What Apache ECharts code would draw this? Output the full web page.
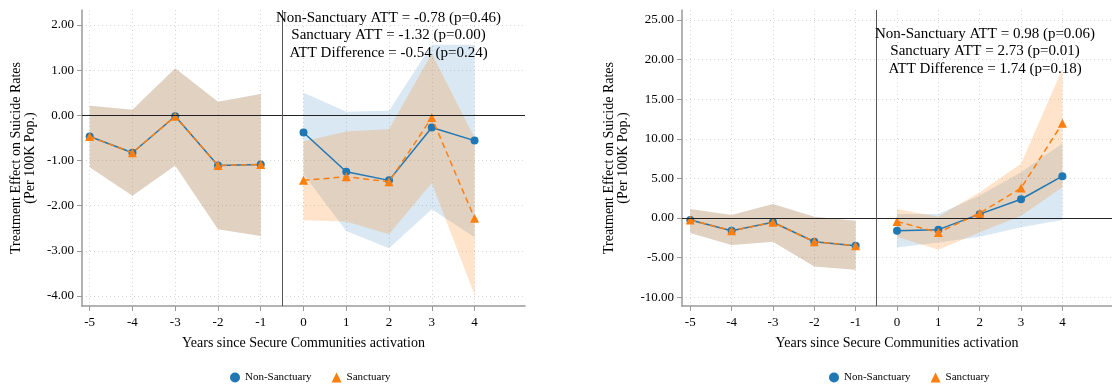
<!DOCTYPE html>
<html>
<head>
<meta charset="utf-8">
<script src="https://cdn.jsdelivr.net/npm/echarts@6/dist/echarts.min.js"></script>
<style>
  html, body { margin: 0; padding: 0; background: #fff; }
  #chart { width: 1112px; height: 386px; }
</style>
</head>
<body>
<div id="chart"></div>
<script>
// Event-time (years relative to Secure Communities activation)
const years = [-5, -4, -3, -2, -1, 0, 1, 2, 3, 4];
const xTicks = [-5, -4, -3, -2, -1, 0, 1, 2, 3, 4];

// Panel A: estimates and 95% CI bounds
const aNonEst = [-0.47, -0.83, -0.02, -1.11, -1.09, -0.38, -1.25, -1.44, -0.27, -0.56];
const aNonLo  = [-1.15, -1.78, -1.11, -2.52, -2.67, -1.30, -2.56, -2.94, -2.08, -2.70];
const aNonHi  = [ 0.21,  0.12,  1.04,  0.30,  0.47,  0.50,  0.08,  0.10,  1.56,  1.56];
const aSanEst = [-0.47, -0.83, -0.02, -1.11, -1.09, -1.44, -1.36, -1.47, -0.05, -2.28];
const aSanLo  = [-1.15, -1.78, -1.11, -2.52, -2.67, -2.32, -2.35, -2.63, -1.50, -3.97];
const aSanHi  = [ 0.21,  0.12,  1.04,  0.30,  0.47, -0.58, -0.36, -0.31,  1.37, -0.50];
const aYTicks = [-4, -3, -2, -1, 0, 1, 2];
const aNote = [
  'Non-Sanctuary ATT = -0.78 (p=0.46)',
  'Sanctuary ATT = -1.32 (p=0.00)',
  'ATT Difference = -0.54 (p=0.24)'
];

// Panel B: estimates and 95% CI bounds
const bNonEst = [-0.25, -1.61, -0.55, -3.00, -3.50, -1.63, -1.48,  0.48,  2.36,  5.27];
const bNonLo  = [-1.90, -3.42, -3.00, -6.12, -6.54, -3.72, -3.10, -2.37, -1.19, -0.25];
const bNonHi  = [ 1.14,  0.38,  1.77,  0.16, -0.34,  0.50,  0.50,  2.82,  5.77,  9.40];
const bSanEst = [-0.25, -1.61, -0.55, -3.00, -3.50, -0.45, -1.84,  0.60,  3.77, 11.95];
const bSanLo  = [-1.90, -3.42, -3.00, -6.12, -6.54, -2.37, -4.02, -1.82,  0.29,  3.87];
const bSanHi  = [ 1.14,  0.38,  1.77,  0.16, -0.34,  1.14,  0.16,  3.24,  6.83, 18.80];
const bYTicks = [-10, -5, 0, 5, 10, 15, 20, 25];
const bNote = [
  'Non-Sanctuary ATT = 0.98 (p=0.06)',
  'Sanctuary ATT = 2.73 (p=0.01)',
  'ATT Difference = 1.74 (p=0.18)'
];

const SERIF = '"Liberation Serif", "DejaVu Serif", "Times New Roman", serif';
const BLUE = '#1f77b4';
const ORANGE = '#ff7f0e';
const BLUE_BAND = 'rgba(31,119,180,0.17)';
const ORANGE_BAND = 'rgba(255,127,14,0.22)';
const AXIS_GRAY = '#9a9a9a';
const NAME_NON = 'Non-Sanctuary';
const NAME_SAN = 'Sanctuary';

// indices of pre- and post-activation periods
const PRE = [0, 1, 2, 3, 4];
const POST = [5, 6, 7, 8, 9];

// Shaded confidence band drawn as one polygon per period
function band(axisIdx, lo, hi, fill) {
  const segments = [PRE, POST];
  return {
    type: 'custom',
    xAxisIndex: axisIdx,
    yAxisIndex: axisIdx,
    silent: true,
    z: 1,
    data: years.map((x, i) => [x, lo[i], hi[i]]),
    encode: { x: 0, y: [1, 2] },
    renderItem: function (params, api) {
      if (params.dataIndex !== 0) return;
      const children = segments.map(seg => {
        const top = seg.map(i => api.coord([years[i], hi[i]]));
        const bot = seg.map(i => api.coord([years[i], lo[i]])).reverse();
        return { type: 'polygon', shape: { points: top.concat(bot) }, style: { fill: fill } };
      });
      return { type: 'group', children: children };
    }
  };
}

function pointLine(axisIdx, name, est, idx, opts) {
  return {
    type: 'line',
    name: name,
    xAxisIndex: axisIdx,
    yAxisIndex: axisIdx,
    data: idx.map(i => [years[i], est[i]]),
    symbol: opts.symbol,
    symbolSize: opts.symbolSize,
    showSymbol: true,
    z: opts.z,
    itemStyle: { color: opts.color },
    lineStyle: { color: opts.color, width: 1.5, type: opts.dash || 'solid' },
    emphasis: { disabled: true },
    animation: false
  };
}

// Zero line and activation divider
function refLines(axisIdx) {
  return {
    type: 'line',
    xAxisIndex: axisIdx,
    yAxisIndex: axisIdx,
    data: [],
    z: 2,
    markLine: {
      silent: true,
      symbol: ['none', 'none'],
      label: { show: false },
      animation: false,
      data: [
        { yAxis: 0, lineStyle: { color: '#222', width: 1, type: 'solid' } },
        { xAxis: -0.5, lineStyle: { color: '#555', width: 1, type: 'solid' } }
      ]
    }
  };
}

function panelSeries(axisIdx, nonEst, nonLo, nonHi, sanEst, sanLo, sanHi) {
  const blue = { symbol: 'circle', symbolSize: 8, color: BLUE, z: 3 };
  const orange = { symbol: 'triangle', symbolSize: 9, color: ORANGE, z: 4, dash: [6, 4] };
  return [
    band(axisIdx, nonLo, nonHi, BLUE_BAND),
    band(axisIdx, sanLo, sanHi, ORANGE_BAND),
    refLines(axisIdx),
    pointLine(axisIdx, NAME_NON, nonEst, PRE, blue),
    pointLine(axisIdx, NAME_NON, nonEst, POST, blue),
    pointLine(axisIdx, NAME_SAN, sanEst, PRE, orange),
    pointLine(axisIdx, NAME_SAN, sanEst, POST, orange)
  ];
}

function xAxisFor(gridIndex, min, max) {
  return {
    type: 'value',
    gridIndex: gridIndex,
    min: min,
    max: max,
    name: 'Years since Secure Communities activation',
    nameLocation: 'middle',
    nameGap: 30,
    nameTextStyle: { fontFamily: SERIF, fontSize: 14, color: '#000' },
    axisLine: { show: true, onZero: false, lineStyle: { color: AXIS_GRAY, width: 1.5 } },
    axisTick: { show: true, length: 5, lineStyle: { color: AXIS_GRAY }, customValues: xTicks },
    axisLabel: { fontFamily: SERIF, fontSize: 13, color: '#000', margin: 10, customValues: xTicks },
    splitLine: { show: true, lineStyle: { color: '#d6d6d6', type: [1, 3], width: 1 } }
  };
}

function yAxisFor(gridIndex, min, max, ticks, gap) {
  return {
    type: 'value',
    gridIndex: gridIndex,
    min: min,
    max: max,
    name: 'Treatment Effect on Suicide Rates\n(Per 100K Pop.)',
    nameLocation: 'middle',
    nameRotate: 90,
    nameGap: gap,
    nameTextStyle: { fontFamily: SERIF, fontSize: 14, lineHeight: 14, color: '#000' },
    axisLine: { show: true, onZero: false, lineStyle: { color: AXIS_GRAY, width: 1.5 } },
    axisTick: { show: true, length: 5, lineStyle: { color: AXIS_GRAY }, customValues: ticks },
    axisLabel: {
      fontFamily: SERIF, fontSize: 13, color: '#000', margin: 8,
      customValues: ticks,
      formatter: v => v.toFixed(2)
    },
    splitLine: { show: true, lineStyle: { color: '#d6d6d6', type: [1, 3], width: 1 } }
  };
}

function legendFor(left) {
  return {
    left: left,
    top: 367,
    itemWidth: 10,
    itemHeight: 10,
    itemGap: 20,
    selectedMode: false,
    textStyle: { fontFamily: SERIF, fontSize: 11, color: '#000' },
    data: [
      { name: NAME_NON, icon: 'circle', itemStyle: { color: BLUE } },
      { name: NAME_SAN, icon: 'triangle', itemStyle: { color: ORANGE } }
    ]
  };
}

function note(lines, cx, cy) {
  return {
    type: 'text',
    x: cx,
    y: cy,
    silent: true,
    z: 10,
    style: {
      text: lines.join('\n'),
      fill: '#000',
      fontFamily: SERIF,
      fontSize: 15,
      lineHeight: 17.5,
      align: 'center',
      verticalAlign: 'middle',
      textAlign: 'center',
      textVerticalAlign: 'middle'
    }
  };
}

const chart = echarts.init(document.getElementById('chart'), null, { renderer: 'canvas' });
chart.setOption({
  animation: false,
  backgroundColor: '#fff',
  grid: [
    { left: 82, top: 10, right: 587, bottom: 80 },
    { left: 682, top: 10, right: -8, bottom: 80 }
  ],
  xAxis: [xAxisFor(0, -5.18, 5.18), xAxisFor(1, -5.2, 5.2)],
  yAxis: [yAxisFor(0, -4.22, 2.33, aYTicks, 45), yAxisFor(1, -11.12, 26.26, bYTicks, 52)],
  legend: [legendFor(225), legendFor(824)],
  graphic: [note(aNote, 388.5, 35.5), note(bNote, 985, 51.5)],
  series: [].concat(
    panelSeries(0, aNonEst, aNonLo, aNonHi, aSanEst, aSanLo, aSanHi),
    panelSeries(1, bNonEst, bNonLo, bNonHi, bSanEst, bSanLo, bSanHi)
  )
});
</script>
</body>
</html>
